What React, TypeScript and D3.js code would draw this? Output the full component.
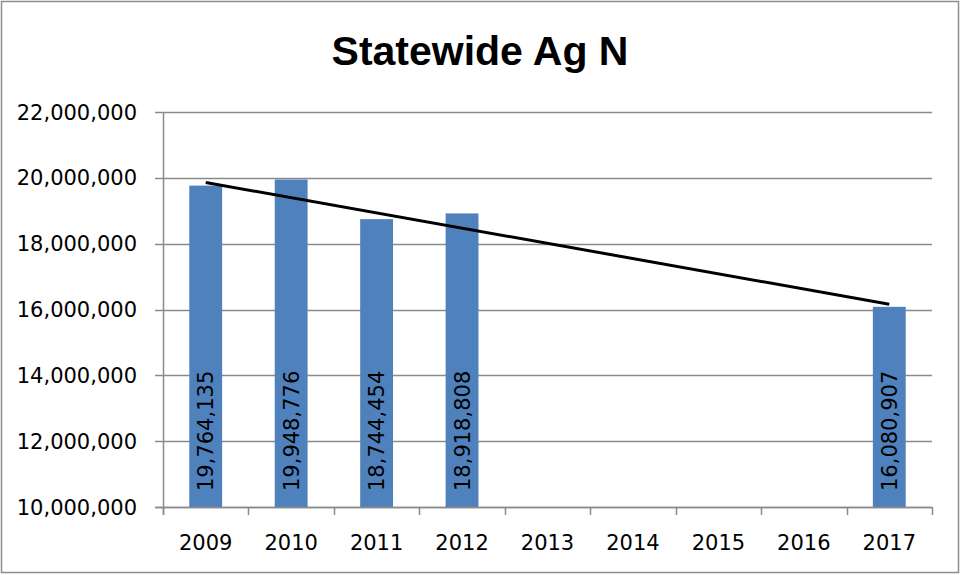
import React, { useEffect, useRef } from 'react';
import * as d3 from 'd3';

const years = ['2009', '2010', '2011', '2012', '2013', '2014', '2015', '2016', '2017'];
const barYears = ['2009', '2010', '2011', '2012', '2017'];
const barValues = [19764135, 19948776, 18744454, 18918808, 16080907];
const yTicks = [10000000, 12000000, 14000000, 16000000, 18000000, 20000000, 22000000];
// trend line end points
const trendYears = ['2009', '2017'];
const trendValues = [19860000, 16160000];

const App: React.FC = () => {
  const svgRef = useRef<SVGSVGElement>(null);

  useEffect(() => {
    if (!svgRef.current) return;
    const svg = d3.select(svgRef.current);
    svg.selectAll('*').remove();

    const width = 961;
    const height = 575;
    const left = 163;
    const right = 932;
    const top = 112;
    const bottom = 507;
    const font = '"DejaVu Sans", Verdana, sans-serif';

    svg.attr('width', width).attr('height', height);

    // chart border
    svg.append('rect')
      .attr('x', 1.5).attr('y', 1.5)
      .attr('width', width - 4).attr('height', height - 4)
      .attr('fill', '#ffffff')
      .attr('stroke', '#8c8c8c')
      .attr('stroke-width', 1.5);

    const x = d3.scaleBand().domain(years).range([left, right]).padding(0);
    const y = d3.scaleLinear().domain([10000000, 22000000]).range([bottom, top]);
    const fmt = d3.format(',');

    // gridlines + y ticks
    svg.append('g')
      .selectAll('line')
      .data(yTicks)
      .join('line')
      .attr('x1', left - 8)
      .attr('x2', right)
      .attr('y1', d => Math.round(y(d)) + 0.5)
      .attr('y2', d => Math.round(y(d)) + 0.5)
      .attr('stroke', '#8a8a8a')
      .attr('stroke-width', 1.5);

    svg.append('g')
      .selectAll('text')
      .data(yTicks)
      .join('text')
      .attr('x', 137)
      .attr('y', d => y(d))
      .attr('dy', '0.36em')
      .attr('text-anchor', 'end')
      .attr('fill', '#000')
      .style('font-family', font)
      .style('font-size', '21px')
      .text(d => fmt(d));

    // bars
    const bw = x.bandwidth() / 2.6;
    svg.append('g')
      .selectAll('rect')
      .data(barYears.map((yr, i) => ({ yr, v: barValues[i] })))
      .join('rect')
      .attr('x', d => (x(d.yr) as number) + x.bandwidth() / 2 - bw / 2)
      .attr('y', d => y(d.v))
      .attr('width', bw)
      .attr('height', d => bottom - y(d.v))
      .attr('fill', '#4f81bd');

    // axes lines
    svg.append('line')
      .attr('x1', left + 0.5).attr('x2', left + 0.5)
      .attr('y1', top).attr('y2', bottom + 8)
      .attr('stroke', '#8a8a8a').attr('stroke-width', 1.5);
    svg.append('line')
      .attr('x1', left - 8).attr('x2', right)
      .attr('y1', bottom + 0.5).attr('y2', bottom + 0.5)
      .attr('stroke', '#8a8a8a').attr('stroke-width', 1.5);

    // category ticks
    const boundaries = years.map(yr => x(yr) as number).concat([right]);
    svg.append('g')
      .selectAll('line')
      .data(boundaries)
      .join('line')
      .attr('x1', d => Math.round(d) + 0.5)
      .attr('x2', d => Math.round(d) + 0.5)
      .attr('y1', bottom)
      .attr('y2', bottom + 8)
      .attr('stroke', '#8a8a8a')
      .attr('stroke-width', 1.5);

    svg.append('g')
      .selectAll('text')
      .data(years)
      .join('text')
      .attr('x', d => (x(d) as number) + x.bandwidth() / 2)
      .attr('y', 550)
      .attr('text-anchor', 'middle')
      .attr('fill', '#000')
      .style('font-family', font)
      .style('font-size', '21px')
      .text(d => d);

    // trend line
    const line = d3.line<[string, number]>()
      .x(d => (x(d[0]) as number) + x.bandwidth() / 2)
      .y(d => y(d[1]));
    svg.append('path')
      .datum(trendYears.map((yr, i) => [yr, trendValues[i]] as [string, number]))
      .attr('d', line)
      .attr('fill', 'none')
      .attr('stroke', '#000')
      .attr('stroke-width', 3);

    // data labels (rotated, inside base)
    svg.append('g')
      .selectAll('text')
      .data(barYears.map((yr, i) => ({ yr, v: barValues[i] })))
      .join('text')
      .attr('transform', d => `translate(${(x(d.yr) as number) + x.bandwidth() / 2},${bottom - 16}) rotate(-90)`)
      .attr('dy', '0.36em')
      .attr('text-anchor', 'start')
      .attr('fill', '#000')
      .style('font-family', font)
      .style('font-size', '21px')
      .text(d => fmt(d.v));

    // title
    svg.append('text')
      .attr('x', 480)
      .attr('y', 65)
      .attr('text-anchor', 'middle')
      .attr('fill', '#000')
      .style('font-family', '"Liberation Sans", Arial, sans-serif')
      .style('font-size', '41px')
      .style('font-weight', 'bold')
      .text('Statewide Ag N');
  }, []);

  return (
    <>
      <style>{'body{margin:0}'}</style>
      <svg ref={svgRef} style={{ display: 'block' }}></svg>
    </>
  );
};

export default App;
